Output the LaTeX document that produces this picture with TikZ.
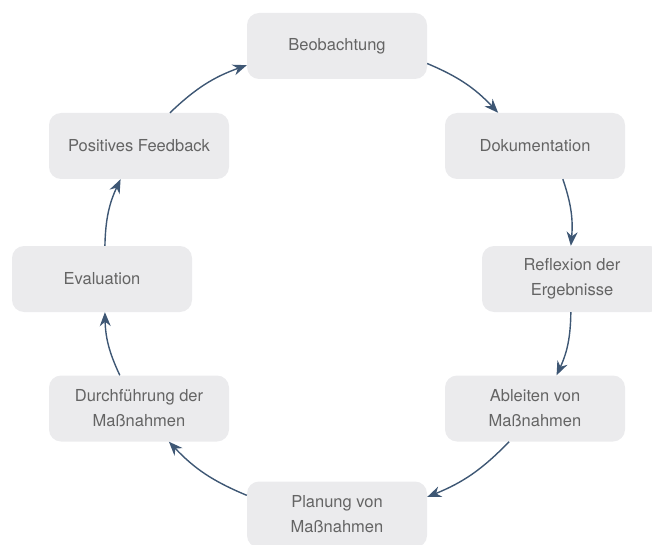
\documentclass[tikz,border=0pt]{standalone}
\usepackage{fontspec}
\setmainfont{TeX Gyre Heros}
\usetikzlibrary{arrows.meta}
\definecolor{boxgray}{RGB}{235,235,237}
\definecolor{textgray}{RGB}{100,100,100}
\definecolor{arrowblue}{RGB}{62,87,116}
\tikzset{>={Stealth[length=14pt,width=11pt]}}

\begin{document}
\begin{tikzpicture}[x=1pt,y=1pt,
    box/.style={rectangle, rounded corners=12pt, fill=boxgray, text=textgray,
      minimum width=180pt, minimum height=66pt, align=center,
      font=\fontsize{16.5}{25}\selectfont},
    flow/.style={->, arrowblue, line width=1.4pt, bend left=12}]
    \useasboundingbox (0,0) rectangle (652,-545);
    % the steps, clockwise from the top
    \node[box] (beob) at (337,-46) {Beobachtung};
    \node[box] (doku) at (535,-146) {Dokumentation};
    \node[box] (refl) at (572,-279) {Reflexion der\\Ergebnisse};
    \node[box] (ableit) at (535,-408.5) {Ableiten von\\Maßnahmen};
    \node[box] (plan) at (337,-514.5) {Planung von\\Maßnahmen};
    \node[box] (durch) at (139,-408.5) {Durchführung der\\Maßnahmen};
    \node[box] (eval) at (102,-279) {Evaluation};
    \node[box] (posfb) at (139,-146) {Positives Feedback};
    % the cycle
    \draw[flow] (beob.-11) to (doku.138);
    \draw[flow] (doku.-50) to (refl.92);
    \draw[flow] (refl.-92) to (ableit.57);
    \draw[flow] (ableit.-128) to (plan.11);
    \draw[flow] (plan.168) to (durch.-48);
    \draw[flow] (durch.120) to (eval.-85);
    \draw[flow] (eval.85) to (posfb.-119);
    \draw[flow] (posfb.47) to (beob.192);
\end{tikzpicture}
\end{document}
